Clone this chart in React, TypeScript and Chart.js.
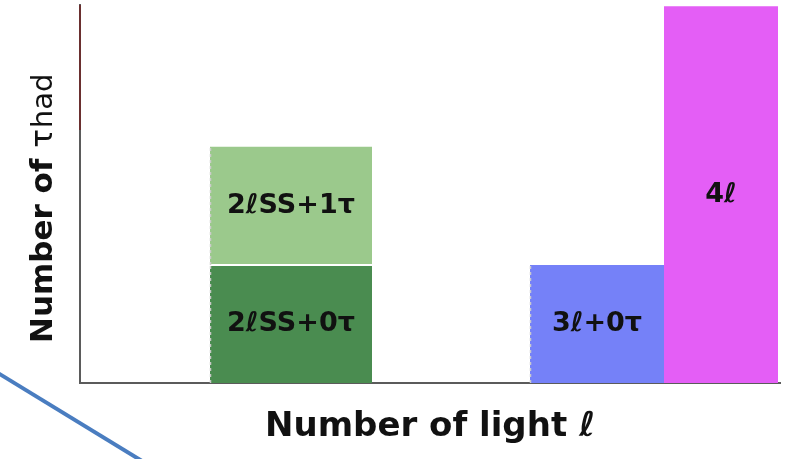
import React, { useEffect, useRef } from "react";
import { Chart, registerables } from "chart.js";

Chart.register(...registerables);

// Bars: each block is a rectangle [xStart, xEnd] x [yLow, yHigh]
const barLabels = ["2ℓSS+0τ", "2ℓSS+1τ", "3ℓ+0τ", "4ℓ"];
const xStart = [1.3, 1.3, 4.5, 5.84];
const xEnd = [2.92, 2.92, 5.84, 6.98];
const yLow = [0, 1, 0, 0];
const yHigh = [1, 2, 1, 3.19];
const barColors = ["#4a8c50", "#9bc98c", "#7581f8", "#e45ef6"];
const dashedEdge = [true, true, true, false];

const xTitle = "Number of light ℓ";
const yTitleMain = "Number of ";
const yTitleTau = "τ";
const yTitleSub = "had";

const FONT = "'DejaVu Sans', 'Liberation Sans', sans-serif";

const decorPlugin = {
  id: "decor",
  afterDatasetsDraw(chart: any) {
    const { ctx, scales } = chart;
    const xs = scales.x;
    const ys = scales.y;
    ctx.save();
    for (let i = 0; i < barLabels.length; i++) {
      const x0 = xs.getPixelForValue(xStart[i]);
      const x1 = xs.getPixelForValue(xEnd[i]);
      const yl = ys.getPixelForValue(yLow[i]);
      const yh = ys.getPixelForValue(yHigh[i]);
      if (dashedEdge[i]) {
        ctx.strokeStyle = "rgba(205,205,205,0.95)";
        ctx.lineWidth = 1.5;
        ctx.setLineDash([3, 3]);
        ctx.beginPath();
        ctx.moveTo(x0 + 0.5, yl);
        ctx.lineTo(x0 + 0.5, yh);
        ctx.stroke();
        ctx.setLineDash([]);
      }
      ctx.fillStyle = "#111";
      ctx.font = `bold 27px ${FONT}`;
      ctx.textAlign = "center";
      ctx.textBaseline = "middle";
      ctx.fillText(barLabels[i], (x0 + x1) / 2, (yl + yh) / 2);
    }
    ctx.restore();
  },
  afterDraw(chart: any) {
    const { ctx, chartArea } = chart;
    ctx.save();
    // dark red top portion of the y axis line
    ctx.strokeStyle = "#6a2f2f";
    ctx.lineWidth = 2;
    ctx.beginPath();
    ctx.moveTo(chartArea.left, chartArea.top);
    ctx.lineTo(chartArea.left, chartArea.top + 125);
    ctx.stroke();

    // rotated y title with mixed fonts
    ctx.translate(52, 343);
    ctx.rotate(-Math.PI / 2);
    ctx.fillStyle = "#111";
    ctx.textAlign = "left";
    ctx.textBaseline = "alphabetic";
    ctx.font = `bold 31px ${FONT}`;
    ctx.fillText(yTitleMain, 0, 0);
    let w = ctx.measureText(yTitleMain).width;
    ctx.font = `31px ${FONT}`;
    ctx.fillText(yTitleTau, w, 0);
    w += ctx.measureText(yTitleTau).width + 1;
    ctx.font = `29px ${FONT}`;
    ctx.fillText(yTitleSub, w, 0);
    ctx.restore();

    // decorative blue stroke at lower left
    ctx.save();
    ctx.strokeStyle = "#4a7dc0";
    ctx.lineWidth = 4;
    ctx.beginPath();
    ctx.moveTo(-2, 373);
    ctx.lineTo(142, 461);
    ctx.stroke();
    ctx.restore();
  },
};

export default function App() {
  const ref = useRef<HTMLCanvasElement | null>(null);

  useEffect(() => {
    if (!ref.current) return;
    const datasets = barLabels.map((lab, i) => ({
      label: lab,
      data: [
        { x: xStart[i], y: yHigh[i] },
        { x: xEnd[i], y: yHigh[i] },
      ],
      backgroundColor: barColors[i],
      borderColor: i === 0 ? "#ffffff" : "rgba(0,0,0,0)",
      borderWidth: i === 0 ? 2 : 1,
      pointRadius: 0,
      fill: { value: yLow[i] },
      tension: 0,
    }));
    const chart = new Chart(ref.current, {
      type: "line",
      data: { datasets },
      options: {
        animation: false,
        responsive: false,
        events: [],
        layout: { padding: { left: 80, right: 6, top: 5, bottom: 0 } },
        plugins: { legend: { display: false }, tooltip: { enabled: false } },
        scales: {
          x: {
            type: "linear",
            min: 0,
            max: 7,
            ticks: { display: false },
            grid: { display: false },
            border: { display: true, color: "#5b5b5b", width: 2 },
            title: {
              display: true,
              text: xTitle,
              color: "#111",
              font: { family: FONT, size: 34, weight: "bold" },
              padding: { top: 0, bottom: 11 },
            },
            afterFit: (s: any) => {
              s.height = 76;
            },
          },
          y: {
            type: "linear",
            min: 0,
            max: 3.2,
            ticks: { display: false },
            grid: { display: false },
            border: { display: true, color: "#5b5b5b", width: 2 },
            afterFit: (s: any) => {
              s.width = 0;
            },
          },
        },
      },
      plugins: [decorPlugin],
    });
    return () => chart.destroy();
  }, []);

  return (
    <div style={{ position: "absolute", left: 0, top: 0, width: 786, height: 459, background: "#fff" }}>
      <canvas ref={ref} width={786} height={459} />
    </div>
  );
}
